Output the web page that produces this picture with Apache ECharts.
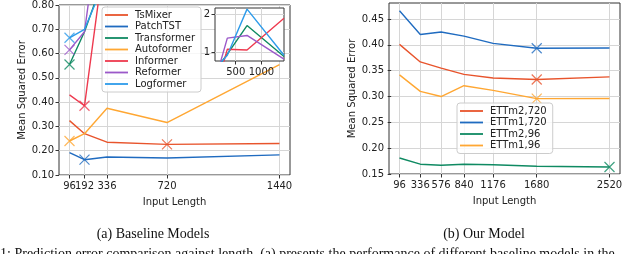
<!DOCTYPE html>
<html>
<head>
<meta charset="utf-8">
<script src="https://cdn.jsdelivr.net/npm/echarts@6/dist/echarts.min.js"></script>
<style>html,body{margin:0;padding:0;background:#fff}#c{width:640px;height:254px}</style>
</head>
<body>
<div id="c"></div>
<script>
// ---- Left chart: baseline models ----
const leftX = [96, 192, 336, 720, 1440];
const leftYTicks = [0.1, 0.2, 0.3, 0.4, 0.5, 0.6, 0.7, 0.8];
const insetXTicks = [500, 1000];
const insetYTicks = [1, 2];
const tsmixer     = [0.324, 0.270, 0.235, 0.226, 0.230];
const patchtst    = [0.192, 0.163, 0.174, 0.170, 0.183];
const transformer = [0.555, 0.690, 0.950, 1.700, 0.890];
const autoformer  = [0.240, 0.270, 0.375, 0.316, 0.554];
const informer    = [0.430, 0.385, 1.080, 1.060, 1.890];
const reformer    = [0.615, 0.690, 1.370, 1.440, 0.820];
const logformer   = [0.665, 0.700, 0.920, 2.130, 0.920];

// ---- Right chart: our model ----
const rightX = [96, 336, 576, 840, 1176, 1680, 2520];
const rightYTicks = [0.15, 0.20, 0.25, 0.30, 0.35, 0.40, 0.45];
const ettm2_720 = [0.401, 0.367, 0.355, 0.343, 0.336, 0.333, 0.338];
const ettm1_720 = [0.466, 0.420, 0.425, 0.417, 0.403, 0.3935, 0.394];
const ettm2_96  = [0.181, 0.169, 0.167, 0.169, 0.168, 0.165, 0.1636];
const ettm1_96  = [0.342, 0.310, 0.300, 0.321, 0.312, 0.296, 0.2962];

const C = {
  red: '#e8542c', blue: '#1f6bc0', green: '#0f8a62', orange: '#ffa733',
  crimson: '#ee3a4f', purple: '#9b59c9', sky: '#2d9bea'
};

const leftSeries = [
  ['TsMixer', tsmixer, C.red],
  ['PatchTST', patchtst, C.blue],
  ['Transformer', transformer, C.green],
  ['Autoformer', autoformer, C.orange],
  ['Informer', informer, C.crimson],
  ['Reformer', reformer, C.purple],
  ['Logformer', logformer, C.sky]
];
const rightSeries = [
  ['ETTm2,720', ettm2_720, C.red],
  ['ETTm1,720', ettm1_720, C.blue],
  ['ETTm2,96', ettm2_96, C.green],
  ['ETTm1,96', ettm1_96, C.orange]
];

const FONT = 'DejaVu Sans';
const XSYM = 'path://M0,0L10,10M10,0L0,10';
const LINE_ICON = 'path://M0,0L23,0L23,1.8L0,1.8Z';

function argmin(a) { let k = 0; for (let i = 1; i < a.length; i++) if (a[i] < a[k]) k = i; return k; }
function zip(xs, ys) { return xs.map((x, i) => [x, ys[i]]); }

// A blank guard label at the axis min keeps neighbouring tick labels (96 / 192) from being auto-hidden.
function mkX(gridIndex, min, max, ticks, nameTxt) {
  const tickSet = new Set(ticks);
  return {
    type: 'value', gridIndex, min, max,
    name: nameTxt || '', nameLocation: 'middle', nameGap: 22,
    nameTextStyle: { fontFamily: FONT, fontSize: 10, color: '#222' },
    axisLine: { show: false },
    axisTick: { show: true, length: 3.5, inside: false, customValues: ticks, lineStyle: { color: '#333' } },
    axisLabel: { customValues: [min].concat(ticks), margin: 6, fontFamily: FONT, fontSize: 10, color: '#222',
      hideOverlap: false, formatter: v => tickSet.has(v) ? String(v) : '' },
    splitLine: { show: true, lineStyle: { color: '#d6d6d6', width: 1 } }
  };
}
function mkY(gridIndex, min, max, ticks, nameTxt, dec) {
  return {
    type: 'value', gridIndex, min, max,
    name: nameTxt || '', nameLocation: 'middle', nameGap: 32,
    nameTextStyle: { fontFamily: FONT, fontSize: 10, color: '#222' },
    axisLine: { show: false },
    axisTick: { show: true, length: 3.5, inside: false, customValues: ticks, lineStyle: { color: '#333' } },
    axisLabel: { customValues: ticks, margin: 5, fontFamily: FONT, fontSize: 10, color: '#222',
      showMinLabel: true, showMaxLabel: true, formatter: v => v.toFixed(dec) },
    splitLine: { show: true, lineStyle: { color: '#d6d6d6', width: 1 } }
  };
}

const series = [];
leftSeries.forEach(([n, d, c]) => {
  series.push({ type: 'line', name: n, xAxisIndex: 0, yAxisIndex: 0, data: zip(leftX, d),
    symbol: 'none', lineStyle: { color: c, width: 1.4 }, itemStyle: { color: c }, z: 2 });
});
leftSeries.forEach(([n, d, c]) => {
  const k = argmin(d);
  series.push({ type: 'scatter', name: n + ' best', xAxisIndex: 0, yAxisIndex: 0, data: [[leftX[k], d[k]]],
    symbol: XSYM, symbolSize: 10, itemStyle: { color: 'rgba(0,0,0,0)', borderColor: c, borderWidth: 1.2 }, z: 3 });
});
leftSeries.forEach(([n, d, c]) => {
  series.push({ type: 'line', name: n, xAxisIndex: 1, yAxisIndex: 1, data: zip(leftX, d),
    symbol: 'none', lineStyle: { color: c, width: 1.4 }, itemStyle: { color: c }, z: 12 });
});
rightSeries.forEach(([n, d, c]) => {
  series.push({ type: 'line', name: n, xAxisIndex: 2, yAxisIndex: 2, data: zip(rightX, d),
    symbol: 'none', lineStyle: { color: c, width: 1.4 }, itemStyle: { color: c }, z: 2 });
});
rightSeries.forEach(([n, d, c]) => {
  const k = argmin(d);
  series.push({ type: 'scatter', name: n + ' best', xAxisIndex: 2, yAxisIndex: 2, data: [[rightX[k], d[k]]],
    symbol: XSYM, symbolSize: 10, itemStyle: { color: 'rgba(0,0,0,0)', borderColor: c, borderWidth: 1.2 }, z: 3 });
});

const legendBase = {
  orient: 'vertical', itemWidth: 23, itemHeight: 14, itemGap: 1.5,
  backgroundColor: 'rgba(255,255,255,0.8)', borderColor: '#cccccc', borderWidth: 1, borderRadius: 3,
  textStyle: { fontFamily: FONT, fontSize: 10, color: '#222', padding: [0, 0, 0, 2] },
  z: 20
};
const legendData = list => list.map(s => ({ name: s[0], icon: LINE_ICON, itemStyle: { color: s[2] } }));

const lx0 = leftX[0], lx1 = leftX[leftX.length - 1], lpad = (lx1 - lx0) * 0.05;
const rx0 = rightX[0], rx1 = rightX[rightX.length - 1], rpad = (rx1 - rx0) * 0.05;

const option = {
  animation: false,
  backgroundColor: '#fff',
  grid: [
    { left: 59, top: 3, width: 231, height: 172, show: true, borderColor: '#333', borderWidth: 1, backgroundColor: 'transparent' },
    { left: 215, top: 8, width: 69, height: 53, show: true, borderColor: '#333', borderWidth: 1, backgroundColor: '#fff', z: 10 },
    { left: 389, top: 3, width: 231, height: 171, show: true, borderColor: '#333', borderWidth: 1, backgroundColor: 'transparent' }
  ],
  xAxis: [
    mkX(0, lx0 - lpad, lx1 + lpad, leftX, 'Input Length'),
    Object.assign(mkX(1, lx0, lx1, insetXTicks, ''), { z: 11 }),
    mkX(2, rx0 - rpad, rx1 + rpad, rightX, 'Input Length')
  ],
  yAxis: [
    mkY(0, 0.1, 0.8, leftYTicks, 'Mean Squared Error', 2),
    Object.assign(mkY(1, 0.77, 2.16, insetYTicks, '', 0), { z: 11 }),
    mkY(2, 0.15, 0.4811, rightYTicks, 'Mean Squared Error', 2)
  ],
  legend: [
    Object.assign({}, legendBase, { left: 102, top: 7, padding: [3, 6, 3, 3], data: legendData(leftSeries) }),
    Object.assign({}, legendBase, { left: 457, top: 103, padding: [3, 6, 3, 3], data: legendData(rightSeries) })
  ],
  graphic: [
    { type: 'text', style: { text: '(a) Baseline Models', x: 153, y: 234, align: 'center', verticalAlign: 'middle', font: '14px "Liberation Serif"', fill: '#111' } },
    { type: 'text', style: { text: '(b) Our Model', x: 484, y: 234, align: 'center', verticalAlign: 'middle', font: '14px "Liberation Serif"', fill: '#111' } },
    { type: 'text', style: { text: 'Figure 1: Prediction error comparison against length. (a) presents the performance of different baseline models in the', x: -40, y: 247, align: 'left', verticalAlign: 'top', font: '14px "Liberation Serif"', fill: '#111' } }
  ],
  series
};

const chart = echarts.init(document.getElementById('c'), null, { renderer: 'canvas' });
chart.setOption(option);
</script>
</body>
</html>
